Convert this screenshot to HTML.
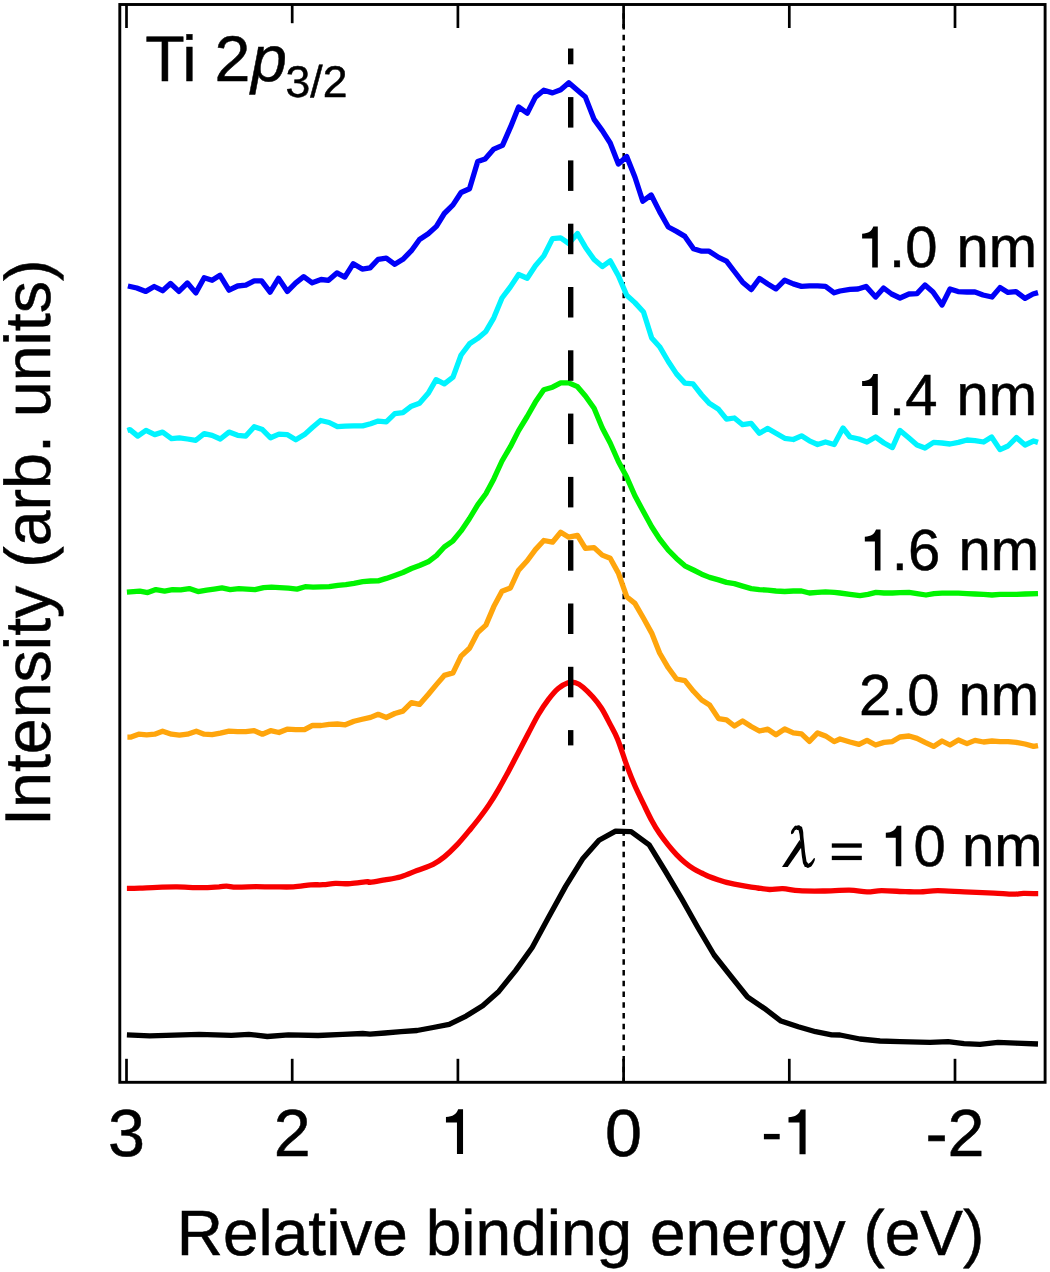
<!DOCTYPE html>
<html><head><meta charset="utf-8"><title>Ti 2p3/2</title>
<style>html,body{margin:0;padding:0;background:#fff}svg{display:block}text{font-family:"Liberation Sans",sans-serif;fill:#000;stroke:#000;stroke-width:0.5px;text-rendering:geometricPrecision}</style></head>
<body>
<svg width="1050" height="1272" viewBox="0 0 1050 1272">
<rect x="0" y="0" width="1050" height="1272" fill="#ffffff"/>
<line x1="623.7" y1="13.25" x2="623.7" y2="1081" stroke="#000" stroke-width="2.5" stroke-dasharray="5.4 5.35"/>
<path d="M126.9,1034.8 L149.7,1035.8 L199.2,1034.3 L231.4,1035.3 L248.8,1034.3 L267.3,1036.5 L288.4,1034.8 L318.1,1035.5 L342.9,1034.3 L362.7,1033.5 L370.0,1034.2 L384.9,1033.0 L401.0,1031.7 L417.0,1030.5 L433.1,1027.5 L449.2,1024.3 L466.1,1016.1 L482.7,1005.7 L498.8,991.4 L515.6,970.6 L532.2,947.5 L548.3,917.8 L565.6,886.4 L582.5,859.1 L599.0,840.3 L615.6,831.1 L631.1,831.6 L649.2,844.8 L665.8,872.0 L681.9,899.2 L698.0,927.7 L714.1,955.0 L730.7,976.0 L747.5,997.0 L764.1,1008.2 L781.0,1021.1 L798.3,1026.8 L815.6,1031.7 L831.7,1034.9 L840.0,1035.0 L860.0,1039.0 L880.0,1041.0 L900.0,1041.6 L930.0,1042.4 L948.0,1041.6 L964.0,1043.6 L980.0,1044.4 L998.0,1042.4 L1016.0,1043.2 L1038.0,1044.0" fill="none" stroke="#000000" stroke-width="5.3" stroke-linejoin="round" stroke-linecap="butt"/>
<path d="M126.9,888.4 C129.1,888.4 134.8,888.4 139.8,888.2 C144.8,888.0 150.9,887.6 157.1,887.4 C163.3,887.2 169.6,886.8 177.0,886.9 C184.4,887.0 194.7,887.7 201.7,887.7 C208.7,887.7 214.9,887.1 219.0,886.9 C223.1,886.6 223.6,886.2 226.5,886.2 C229.4,886.2 231.5,887.1 236.4,887.2 C241.3,887.3 250.0,886.8 256.2,886.7 C262.4,886.7 267.3,886.9 273.5,886.9 C279.7,886.9 287.1,887.2 293.3,886.9 C299.5,886.6 305.8,885.3 310.7,884.9 C315.6,884.5 318.9,885.0 323.0,884.7 C327.1,884.5 330.8,883.6 335.4,883.4 C339.9,883.2 344.9,884.0 350.3,883.7 C355.7,883.4 364.3,881.9 367.6,881.7 C370.9,881.5 367.1,882.7 370.0,882.4 C372.9,882.1 379.7,880.8 384.9,879.9 C390.1,879.0 395.6,878.3 401.0,876.7 C406.4,875.1 411.6,872.6 417.0,870.5 C422.4,868.4 428.6,866.6 433.1,864.3 C437.7,862.0 440.4,860.1 444.3,856.9 C448.2,853.7 452.6,849.5 456.7,845.2 C460.8,840.9 465.3,835.4 469.0,830.9 C472.7,826.4 475.7,822.8 479.0,818.5 C482.3,814.2 485.6,809.9 488.9,804.9 C492.2,799.9 495.5,794.5 498.8,788.8 C502.1,783.1 505.4,777.0 508.7,770.9 C512.0,764.8 515.3,758.4 518.6,752.1 C521.9,745.8 525.2,739.3 528.5,733.0 C531.8,726.7 535.1,720.1 538.4,714.5 C541.7,708.9 545.0,703.9 548.3,699.6 C551.6,695.3 554.9,691.3 558.2,688.5 C561.5,685.7 565.2,683.8 568.1,682.8 C571.0,681.8 573.0,682.1 575.5,682.8 C578.0,683.5 580.1,684.8 583.0,687.2 C585.9,689.6 589.8,693.6 592.9,697.1 C596.0,700.6 598.6,703.8 601.5,708.3 C604.4,712.8 607.5,719.2 610.2,724.4 C612.9,729.5 614.7,732.1 617.6,739.2 C620.5,746.3 624.5,759.4 627.4,767.2 C630.3,775.0 632.2,779.7 634.9,785.8 C637.6,791.9 640.7,798.1 643.5,803.9 C646.3,809.7 649.0,815.5 651.7,820.5 C654.4,825.5 656.8,829.5 659.6,833.6 C662.4,837.7 665.5,841.7 668.3,845.2 C671.1,848.7 673.7,851.7 676.5,854.6 C679.3,857.5 682.1,860.2 684.9,862.6 C687.7,865.0 690.7,867.1 693.5,868.8 C696.3,870.5 699.0,871.7 701.7,873.0 C704.4,874.3 706.8,875.6 709.6,876.7 C712.4,877.9 715.8,879.0 718.6,879.9 C721.4,880.8 723.9,881.7 726.5,882.4 C729.1,883.1 731.7,883.6 734.4,884.1 C737.1,884.6 739.8,885.1 742.6,885.6 C745.4,886.1 748.7,886.7 751.2,887.1 C753.7,887.5 754.7,887.6 757.7,888.0 C760.8,888.4 765.3,889.4 769.5,889.5 C773.7,889.6 777.9,888.4 782.8,888.6 C787.7,888.8 792.4,890.3 799.0,890.7 C805.6,891.1 814.3,891.1 822.7,891.0 C831.1,890.9 841.8,890.0 849.2,890.1 C856.6,890.2 861.6,891.8 867.0,891.9 C872.4,892.0 875.3,890.8 881.7,890.7 C888.1,890.7 898.9,891.4 905.3,891.6 C911.7,891.8 914.7,892.0 920.1,891.9 C925.5,891.8 930.4,890.7 937.8,890.7 C945.2,890.7 955.0,891.5 964.4,891.9 C973.8,892.3 985.8,892.7 993.9,893.1 C1002.0,893.5 1008.2,894.2 1013.1,894.2 C1018.0,894.2 1019.2,893.5 1023.4,893.4 C1027.6,893.3 1035.7,893.7 1038.2,893.7" fill="none" stroke="#f80000" stroke-width="5.3" stroke-linejoin="round" stroke-linecap="butt"/>
<path d="M127.4,737.2 L130.4,737.2 L138.6,734.2 L146.7,734.9 L154.7,734.2 L162.6,731.2 L171.5,734.2 L179.4,735.2 L187.4,734.2 L196.3,731.2 L204.2,734.2 L212.1,734.7 L220.3,733.2 L229.0,731.2 L237.6,731.7 L245.8,731.7 L254.2,730.7 L262.4,734.2 L270.6,730.7 L279.0,732.5 L287.1,729.2 L295.8,729.7 L304.5,729.7 L312.6,725.3 L321.1,725.5 L329.2,724.3 L337.4,724.0 L345.3,724.8 L354.0,721.3 L362.2,719.3 L370.6,717.4 L378.2,714.3 L386.3,717.5 L394.8,713.5 L402.9,711.1 L411.4,702.6 L419.5,704.4 L428.2,694.5 L436.4,684.6 L444.3,675.4 L453.0,672.9 L461.1,656.1 L469.5,648.2 L477.7,632.6 L485.9,625.1 L493.8,606.6 L502.0,591.2 L510.4,588.0 L518.6,570.2 L527.2,560.8 L535.4,549.6 L543.8,540.5 L552.5,542.2 L560.7,532.3 L568.8,537.2 L577.5,535.3 L585.4,548.4 L594.1,547.6 L602.3,555.1 L610.2,558.3 L618.4,573.1 L626.7,596.7 L634.9,603.4 L643.5,618.3 L651.7,633.1 L659.6,653.0 L668.3,667.8 L676.5,679.0 L684.9,680.7 L693.5,691.3 L701.7,700.0 L709.6,705.0 L718.6,718.6 L726.5,719.8 L734.4,726.0 L742.6,721.0 L751.2,726.5 L759.4,731.0 L767.8,729.2 L776.0,734.7 L784.7,729.0 L793.3,732.9 L801.5,733.9 L809.4,741.4 L817.6,732.9 L825.5,735.9 L834.2,741.6 L840.0,739.0 L850.0,742.0 L859.0,744.4 L867.0,740.4 L875.6,745.0 L884.0,742.4 L892.4,741.6 L900.0,737.0 L909.0,736.0 L917.0,738.4 L925.0,742.4 L933.6,746.4 L942.0,741.0 L950.0,745.0 L958.4,740.0 L967.0,743.6 L975.0,740.4 L983.6,742.0 L992.0,741.0 L1000.0,741.6 L1008.0,741.6 L1016.4,742.4 L1025.0,744.0 L1033.6,746.4 L1038.0,745.6" fill="none" stroke="#ffa50c" stroke-width="5.3" stroke-linejoin="round" stroke-linecap="butt"/>
<path d="M126.9,592.1 L139.8,591.1 L147.7,592.6 L155.9,589.6 L164.6,591.1 L172.5,589.6 L180.7,589.9 L189.3,588.6 L198.0,591.6 L206.7,590.1 L214.1,589.1 L222.0,587.9 L230.2,589.6 L238.9,588.6 L246.8,589.1 L255.0,589.6 L263.6,587.7 L271.5,587.2 L279.7,587.7 L288.4,588.2 L297.0,589.1 L305.2,586.7 L313.1,587.2 L321.1,586.9 L329.2,586.7 L337.9,585.4 L345.8,584.7 L354.0,583.4 L362.7,581.7 L370.6,581.0 L378.2,580.9 L386.3,578.4 L394.8,575.4 L402.9,572.5 L411.4,568.5 L419.5,565.5 L428.2,561.8 L436.4,555.6 L444.3,547.0 L453.0,540.8 L461.1,530.9 L469.5,518.5 L477.7,504.9 L485.9,493.7 L493.8,478.9 L502.0,461.0 L510.4,446.7 L518.6,430.6 L527.2,416.5 L535.4,402.1 L543.8,389.7 L552.5,387.2 L560.7,382.8 L568.8,382.8 L577.5,386.7 L585.4,395.9 L594.1,408.3 L602.3,428.1 L610.2,443.0 L618.4,461.5 L626.7,477.1 L634.9,495.7 L643.5,511.8 L651.7,526.7 L659.6,539.0 L668.3,550.2 L676.5,558.4 L684.9,565.8 L693.5,570.0 L701.7,574.2 L709.6,577.4 L718.6,579.9 L726.5,582.4 L734.4,583.6 L742.6,586.1 L751.2,588.6 L759.4,589.6 L767.8,590.1 L776.0,591.0 L784.7,591.5 L793.3,591.0 L801.5,591.0 L809.4,593.0 L817.6,592.3 L825.5,591.8 L834.2,592.3 L840.0,593.0 L850.0,594.4 L860.0,595.6 L868.0,594.4 L876.0,592.4 L884.0,593.0 L892.4,593.0 L900.0,592.6 L909.0,592.4 L917.0,593.6 L926.0,595.0 L934.0,593.6 L942.0,593.2 L950.0,593.2 L958.4,593.2 L967.0,593.6 L975.0,594.0 L983.6,594.4 L992.0,595.0 L1000.0,594.4 L1008.0,594.4 L1016.4,594.4 L1025.0,594.0 L1038.0,593.6" fill="none" stroke="#00f400" stroke-width="5.3" stroke-linejoin="round" stroke-linecap="butt"/>
<path d="M127.4,430.4 L129.9,429.6 L137.8,436.1 L146.0,430.4 L154.7,434.6 L162.6,432.1 L171.5,438.6 L179.4,437.8 L187.4,439.0 L195.8,440.3 L204.2,433.6 L212.1,435.3 L220.3,439.0 L229.0,432.1 L237.6,435.3 L245.8,436.1 L254.2,426.7 L262.4,429.6 L270.6,437.8 L279.0,434.1 L287.1,434.6 L295.8,439.8 L304.5,434.6 L312.6,427.2 L320.6,420.5 L329.2,422.5 L337.4,426.7 L345.3,426.2 L354.0,425.9 L362.7,425.9 L370.6,423.7 L378.2,421.1 L386.3,421.8 L394.8,413.6 L402.9,412.6 L411.4,406.2 L419.5,403.2 L428.2,393.3 L436.1,379.7 L444.3,383.9 L453.0,377.2 L461.1,355.0 L469.5,343.8 L477.7,338.4 L485.9,331.4 L493.8,317.8 L502.0,298.0 L510.4,286.9 L518.6,274.5 L527.2,278.2 L535.4,265.8 L543.8,255.9 L552.5,238.6 L560.7,237.8 L568.8,243.5 L577.5,233.6 L585.4,247.2 L594.1,259.6 L602.3,266.6 L610.2,260.9 L618.4,275.7 L626.7,295.2 L634.9,302.6 L643.5,312.0 L651.7,338.0 L659.6,346.7 L668.3,361.5 L676.5,373.9 L684.9,383.1 L693.0,383.8 L701.7,395.0 L709.6,403.6 L718.6,409.3 L726.5,419.2 L734.4,418.0 L742.6,424.7 L751.2,423.4 L759.4,433.3 L767.8,428.4 L776.0,433.3 L784.7,438.3 L793.3,439.5 L801.5,435.8 L809.4,440.8 L817.6,444.5 L825.5,442.0 L834.2,444.5 L843.0,428.0 L850.0,437.0 L859.0,439.0 L867.0,442.0 L875.6,437.0 L884.0,443.0 L892.4,447.6 L900.0,430.4 L909.0,438.0 L917.0,445.0 L925.0,448.0 L933.6,442.4 L942.0,443.0 L950.0,444.0 L958.4,442.4 L967.0,440.0 L975.0,440.6 L983.6,442.0 L991.6,437.0 L1000.0,449.6 L1008.0,446.0 L1016.4,437.6 L1025.0,445.0 L1033.6,441.0 L1038.0,442.4" fill="none" stroke="#00f4ff" stroke-width="5.3" stroke-linejoin="round" stroke-linecap="butt"/>
<path d="M127.9,286.0 L136.8,288.0 L145.8,291.4 L154.2,286.5 L162.6,290.7 L170.5,283.5 L178.9,291.4 L187.4,283.0 L195.8,292.9 L204.2,277.8 L212.1,280.3 L220.0,275.3 L229.0,290.2 L237.6,286.0 L245.8,285.2 L254.2,280.8 L261.6,280.8 L270.1,292.2 L278.5,278.3 L287.4,291.4 L295.8,282.8 L303.7,276.6 L312.2,282.8 L321.1,279.5 L328.5,280.3 L336.9,272.9 L344.8,277.1 L353.3,263.7 L362.2,269.1 L370.1,267.9 L378.2,259.3 L386.3,258.1 L394.8,264.3 L402.9,259.3 L411.4,250.7 L419.5,239.5 L428.2,233.8 L436.4,226.4 L444.3,213.5 L453.0,204.9 L461.1,192.5 L469.5,188.8 L477.7,161.5 L485.1,159.0 L493.8,149.1 L502.5,145.4 L510.6,126.9 L518.6,107.0 L527.2,113.2 L535.4,97.1 L543.8,90.2 L552.5,92.9 L560.7,89.7 L568.8,82.8 L577.5,90.2 L585.4,97.1 L594.1,119.4 L602.3,130.6 L610.2,143.0 L618.4,164.0 L626.7,156.6 L634.9,177.0 L642.8,201.2 L651.2,195.0 L659.6,211.6 L668.3,227.0 L676.5,231.4 L684.9,236.4 L693.5,248.8 L701.7,251.2 L709.1,251.2 L718.6,257.4 L726.5,261.1 L734.4,271.5 L742.6,282.2 L751.2,289.6 L759.4,278.5 L767.8,283.9 L776.0,288.9 L784.7,280.2 L793.3,283.9 L801.5,286.4 L809.4,285.9 L817.6,285.9 L825.5,286.4 L834.2,292.8 L840.0,291.0 L850.0,289.4 L858.0,289.0 L866.0,286.4 L875.6,297.0 L883.6,288.0 L891.6,294.0 L900.0,298.0 L909.0,294.0 L917.0,293.6 L925.0,285.0 L933.0,292.0 L942.0,305.0 L950.0,289.0 L958.0,291.6 L967.0,292.0 L975.0,292.0 L983.0,295.0 L992.0,297.0 L1000.0,287.6 L1008.0,292.4 L1016.0,291.6 L1025.0,298.4 L1033.0,294.0 L1038.0,292.6" fill="none" stroke="#0000f8" stroke-width="5.3" stroke-linejoin="round" stroke-linecap="butt"/>
<rect x="568.0" y="48.5" width="5.4" height="15.8" fill="#000"/>
<rect x="568.0" y="97.1" width="5.4" height="30.5" fill="#000"/>
<rect x="568.0" y="160.4" width="5.4" height="30.5" fill="#000"/>
<rect x="568.0" y="223.7" width="5.4" height="30.5" fill="#000"/>
<rect x="568.0" y="287.0" width="5.4" height="30.5" fill="#000"/>
<rect x="568.0" y="350.3" width="5.4" height="30.5" fill="#000"/>
<rect x="568.0" y="413.6" width="5.4" height="30.5" fill="#000"/>
<rect x="568.0" y="476.9" width="5.4" height="30.5" fill="#000"/>
<rect x="568.0" y="540.2" width="5.4" height="30.5" fill="#000"/>
<rect x="568.0" y="603.5" width="5.4" height="30.5" fill="#000"/>
<rect x="568.0" y="666.8" width="5.4" height="30.5" fill="#000"/>
<rect x="568.0" y="730.1" width="5.4" height="15.3" fill="#000"/>
<rect x="119.8" y="4.5" width="925.3" height="1077.8" fill="none" stroke="#000" stroke-width="2.9"/>
<line x1="126.5" y1="1082.3" x2="126.5" y2="1058.8" stroke="#000" stroke-width="2.7"/>
<line x1="126.5" y1="4.5" x2="126.5" y2="28" stroke="#000" stroke-width="2.7"/>
<text x="126.5" y="1155.5" font-size="66.5" text-anchor="middle">3</text>
<line x1="292.2" y1="1082.3" x2="292.2" y2="1058.8" stroke="#000" stroke-width="2.7"/>
<line x1="292.2" y1="4.5" x2="292.2" y2="23.2" stroke="#000" stroke-width="2.7"/>
<text x="292.2" y="1155.5" font-size="66.5" text-anchor="middle">2</text>
<line x1="457.9" y1="1082.3" x2="457.9" y2="1058.8" stroke="#000" stroke-width="2.7"/>
<line x1="457.9" y1="4.5" x2="457.9" y2="28" stroke="#000" stroke-width="2.7"/>
<path d="M463.05,1109.30 L463.05,1154.00 L456.95,1154.00 L456.95,1122.40 L445.95,1122.40 L445.95,1117.10 C452.95,1116.60 456.45,1114.30 458.15,1109.30 Z" fill="#000"/>
<line x1="623.6" y1="1082.3" x2="623.6" y2="1058.8" stroke="#000" stroke-width="2.7"/>
<line x1="623.6" y1="4.5" x2="623.6" y2="28" stroke="#000" stroke-width="2.7"/>
<text x="623.6" y="1155.5" font-size="66.5" text-anchor="middle">0</text>
<line x1="789.3" y1="1082.3" x2="789.3" y2="1058.8" stroke="#000" stroke-width="2.7"/>
<line x1="789.3" y1="4.5" x2="789.3" y2="28" stroke="#000" stroke-width="2.7"/>
<rect x="763.9" y="1133.9" width="15.8" height="5.4" fill="#000"/>
<path d="M805.60,1109.50 L805.60,1154.20 L799.50,1154.20 L799.50,1122.60 L788.50,1122.60 L788.50,1117.30 C795.50,1116.80 799.00,1114.50 800.70,1109.50 Z" fill="#000"/>
<line x1="955.0" y1="1082.3" x2="955.0" y2="1058.8" stroke="#000" stroke-width="2.7"/>
<line x1="955.0" y1="4.5" x2="955.0" y2="28" stroke="#000" stroke-width="2.7"/>
<text x="955.0" y="1155.5" font-size="66.5" text-anchor="middle">-2</text>
<text x="580.5" y="1254.9" font-size="64" text-anchor="middle">Relative binding energy (eV)</text>
<text transform="translate(49.5,542.7) rotate(-90)" font-size="64.5" text-anchor="middle">Intensity (arb. units)</text>
<text x="145.2" y="81.2" font-size="64.5">Ti 2</text>
<text x="251" y="81.2" font-size="64.5" font-style="italic">p</text>
<text x="285.6" y="97.2" font-size="44.5" style="filter:grayscale(1)">3/2</text>
<text x="1037.0" y="267.3" font-size="58" text-anchor="end">nm</text>
<path d="M877.80,226.60 L877.80,267.60 L872.20,267.60 L872.20,238.62 L862.12,238.62 L862.12,233.75 C868.54,233.30 871.75,231.19 873.31,226.60 Z" fill="#000"/>
<text x="889.1" y="267.3" font-size="58">.0</text>
<text x="1037.0" y="414.59999999999997" font-size="58" text-anchor="end">nm</text>
<path d="M877.80,373.90 L877.80,414.90 L872.20,414.90 L872.20,385.92 L862.12,385.92 L862.12,381.05 C868.54,380.60 871.75,378.49 873.31,373.90 Z" fill="#000"/>
<text x="889.1" y="414.59999999999997" font-size="58">.4</text>
<text x="1039.2" y="570.2" font-size="58" text-anchor="end">nm</text>
<path d="M880.50,529.50 L880.50,570.50 L874.90,570.50 L874.90,541.52 L864.82,541.52 L864.82,536.65 C871.24,536.20 874.45,534.09 876.01,529.50 Z" fill="#000"/>
<text x="891.8" y="570.2" font-size="58">.6</text>
<text x="1039.2" y="715.0" font-size="58" text-anchor="end">nm</text>
<text x="859.0" y="715.0" font-size="58">2.0</text>
<text x="1042.5" y="866.3" font-size="58" text-anchor="end">0 nm</text>
<path d="M901.30,825.80 L901.30,866.30 L895.77,866.30 L895.77,837.67 L885.81,837.67 L885.81,832.87 C892.15,832.41 895.32,830.33 896.86,825.80 Z" fill="#000"/>
<rect x="831.8" y="843.4" width="30" height="4.3" fill="#000"/><rect x="831.8" y="855.8" width="30" height="4.3" fill="#000"/>
<path d="M791.0,832.8 C791.1,830.9 791.4,830.1 793.4,827.7 C795.5,825.3 794.9,826.1 797.2,825.6 C799.6,825.1 798.8,825.0 800.6,826.3 C802.4,827.6 801.6,824.9 802.7,829.6 C803.8,834.4 802.9,831.5 803.9,840.6 C805.0,849.6 804.6,849.5 805.8,856.8 C807.0,864.1 806.2,860.4 807.4,862.5 C808.7,864.5 807.9,863.7 809.6,863.0 C811.3,862.2 811.1,861.6 812.5,860.1 C813.8,858.6 812.9,858.8 813.7,858.5 C814.5,858.2 815.1,857.3 814.9,859.1 C814.6,861.0 814.7,861.2 813.0,863.9 C811.2,866.6 811.8,866.1 809.6,867.2 C807.4,868.3 808.2,868.0 806.3,867.2 C804.4,866.4 805.2,867.7 803.9,864.9 C802.6,862.0 803.4,865.8 802.3,858.7 C801.2,851.5 801.6,852.2 800.6,843.4 C799.5,834.7 800.1,836.9 799.1,832.5 C798.2,828.0 799.0,830.9 797.7,830.1 C796.4,829.3 796.9,829.0 795.3,830.1 C793.8,831.2 794.6,832.5 793.1,833.4 C791.7,834.3 791.0,834.7 791.0,832.8Z" fill="#000"/>
<path d="M782.0,867.0 L799.6,840.1 L802.9,845.2 L787.7,867.0 Z" fill="#000"/>
</svg>
</body></html>
